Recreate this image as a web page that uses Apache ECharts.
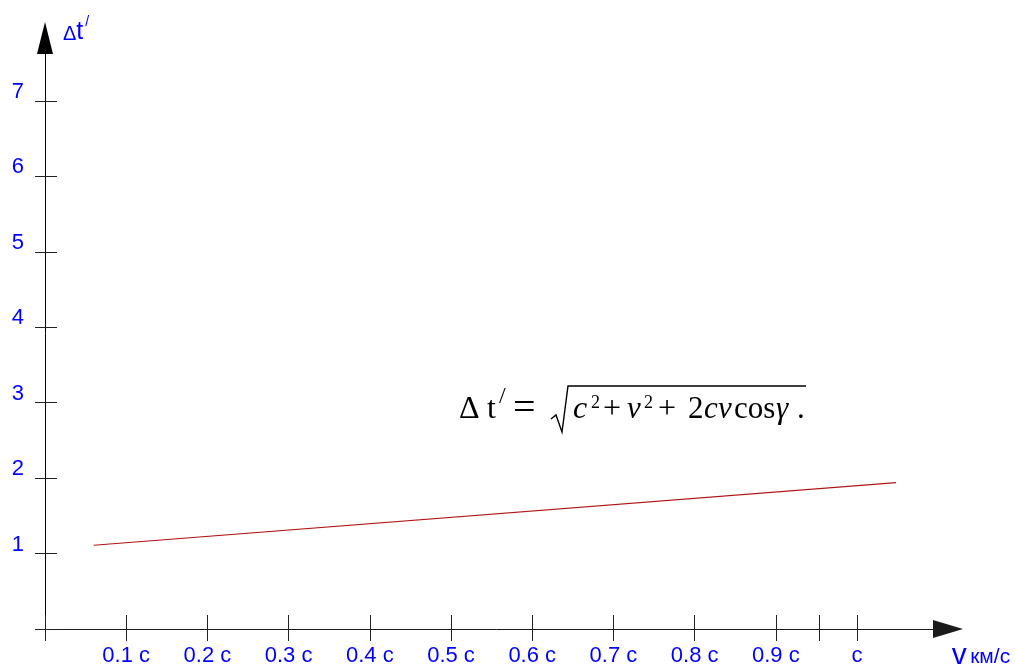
<!DOCTYPE html>
<html>
<head>
<meta charset="utf-8">
<title>Δt′ от v</title>
<script src="https://cdn.jsdelivr.net/npm/echarts@6/dist/echarts.min.js"></script>
<style>
  html, body { margin: 0; padding: 0; background: #ffffff; }
  #chart { width: 1015px; height: 667px; }
</style>
</head>
<body>
<div id="chart"></div>
<script>
// Speed as a fraction of c, and the delay Δt′
const speedValues = [0.06, 1.048];
const delayValues = [1.11, 1.94];

// Tick positions and their labels
const xTickValues = [0, 0.1, 0.2, 0.3, 0.4, 0.5, 0.6, 0.7, 0.8, 0.9, 0.953, 1.0];
const xLabelValues = [0.1, 0.2, 0.3, 0.4, 0.5, 0.6, 0.7, 0.8, 0.9, 1.0];
const xLabelTexts = ['0.1 c', '0.2 c', '0.3 c', '0.4 c', '0.5 c', '0.6 c', '0.7 c', '0.8 c', '0.9 c', 'c'];
const yTickValues = [0, 1, 2, 3, 4, 5, 6, 7];
const yLabelValues = [1, 2, 3, 4, 5, 6, 7];

const X_MAX = 1.112;
const Y_MAX = 7.835;
const BLUE = '#0000ff';
const SANS = '"Liberation Sans", Arial, sans-serif';
const SERIF = '"Liberation Serif", "Times New Roman", serif';

// Pieces of the formula Δt′ = √(c² + v² + 2cv cos γ).
// [text, left x, vertical centre, font size, italic]
const formulaPieces = [
  ['Δ', 459, 410, 32, false],
  ['t', 487, 410, 32, false],
  ['/', 499, 397, 24, false],
  ['=', 513, 409, 40, false],
  ['c', 573, 410, 32, true],
  ['2', 591, 403, 18, false],
  ['+', 603, 410, 32, false],
  ['v', 627, 410, 31, true],
  ['2', 644, 403, 18, false],
  ['+', 658, 410, 32, false],
  ['2', 688, 410, 31, false],
  ['c', 704, 410, 31, true],
  ['v', 718, 410, 31, true],
  ['cos', 734, 410, 31, false],
  ['γ', 776, 410, 31, true],
  ['.', 797, 410, 31, false]
];

const formulaGraphics = formulaPieces.map(function (p) {
  return {
    type: 'text',
    x: p[1],
    y: p[2],
    silent: true,
    style: {
      text: p[0],
      font: (p[4] ? 'italic ' : '') + p[3] + 'px ' + SERIF,
      fill: '#000000',
      align: 'left',
      verticalAlign: 'middle'
    }
  };
});

// radical sign with its overline
formulaGraphics.push({
  type: 'polyline',
  silent: true,
  shape: { points: [[551, 419], [556, 415], [562, 432], [568, 386], [806, 386]] },
  style: { stroke: '#000000', lineWidth: 1.4, fill: null }
});

const chart = echarts.init(document.getElementById('chart'), null, { renderer: 'canvas' });

chart.setOption({
  backgroundColor: '#ffffff',
  animation: false,
  grid: {
    left: 45, right: 67, top: 38, bottom: 38,
    containLabel: false,
    outerBoundsMode: 'none'
  },
  xAxis: [
    {
      type: 'value',
      min: 0,
      max: X_MAX,
      position: 'bottom',
      splitLine: { show: false },
      axisLine: {
        show: true,
        onZero: false,
        symbol: ['none', 'triangle'],
        symbolSize: [18, 30],
        lineStyle: { color: '#1a1a1a', width: 1 }
      },
      axisTick: {
        show: true,
        inside: true,
        length: 14,
        customValues: xTickValues,
        lineStyle: { color: '#222222', width: 1 }
      },
      axisLabel: {
        show: true,
        margin: 16,
        customValues: xLabelValues,
        color: BLUE,
        fontFamily: SANS,
        fontSize: 22,
        formatter: function (v) {
          const i = xLabelValues.findIndex(function (t) { return Math.abs(t - v) < 1e-6; });
          return i >= 0 ? xLabelTexts[i] : '';
        }
      },
      name: '{a|v} {b|км/с}',
      nameLocation: 'end',
      nameGap: 33,
      nameTextStyle: {
        align: 'center',
        verticalAlign: 'top',
        padding: [12, 0, 0, 0],
        color: BLUE,
        fontFamily: SANS,
        rich: {
          a: { fontSize: 30, color: BLUE, fontFamily: SANS },
          b: { fontSize: 21, color: BLUE, fontFamily: SANS, padding: [3, 0, 0, 0] }
        }
      }
    },
    {
      // lower halves of the crossing x ticks
      type: 'value',
      min: 0,
      max: X_MAX,
      position: 'bottom',
      offset: 0,
      splitLine: { show: false },
      axisLine: { show: false, onZero: false },
      axisTick: {
        show: true,
        inside: false,
        length: 12,
        customValues: xTickValues,
        lineStyle: { color: '#222222', width: 1 }
      },
      axisLabel: { show: false }
    }
  ],
  yAxis: [
    {
      type: 'value',
      min: 0,
      max: Y_MAX,
      position: 'left',
      splitLine: { show: false },
      axisLine: {
        show: true,
        onZero: false,
        symbol: ['none', 'triangle'],
        symbolSize: [16, 32],
        lineStyle: { color: '#000000', width: 1 }
      },
      axisTick: {
        show: true,
        inside: true,
        length: 12,
        customValues: yTickValues,
        lineStyle: { color: '#222222', width: 1 }
      },
      axisLabel: {
        show: true,
        margin: 21,
        customValues: yLabelValues,
        color: BLUE,
        fontFamily: SANS,
        fontSize: 22,
        lineHeight: 18,
        verticalAlign: 'bottom'
      },
      name: '{d|Δ}{t|t}{p|/}',
      nameLocation: 'end',
      nameGap: 6,
      nameTextStyle: {
        align: 'left',
        verticalAlign: 'middle',
        padding: [0, 0, 0, 18],
        color: BLUE,
        fontFamily: SANS,
        rich: {
          d: { fontSize: 20, color: BLUE, fontFamily: SANS, padding: [4, 0, 0, 0] },
          t: { fontSize: 25, color: BLUE, fontFamily: SANS },
          p: { fontSize: 14, color: BLUE, fontFamily: SANS, padding: [0, 0, 20, 2] }
        }
      }
    },
    {
      // left halves of the crossing y ticks
      type: 'value',
      min: 0,
      max: Y_MAX,
      position: 'left',
      offset: 0,
      splitLine: { show: false },
      axisLine: { show: false, onZero: false },
      axisTick: {
        show: true,
        inside: false,
        length: 10,
        customValues: yTickValues,
        lineStyle: { color: '#222222', width: 1 }
      },
      axisLabel: { show: false }
    }
  ],
  graphic: formulaGraphics,
  series: [
    {
      type: 'line',
      xAxisIndex: 0,
      yAxisIndex: 0,
      data: speedValues.map(function (v, i) { return [v, delayValues[i]]; }),
      showSymbol: false,
      symbol: 'none',
      silent: true,
      lineStyle: { color: '#b01515', width: 1.2 }
    }
  ]
});
</script>
</body>
</html>
